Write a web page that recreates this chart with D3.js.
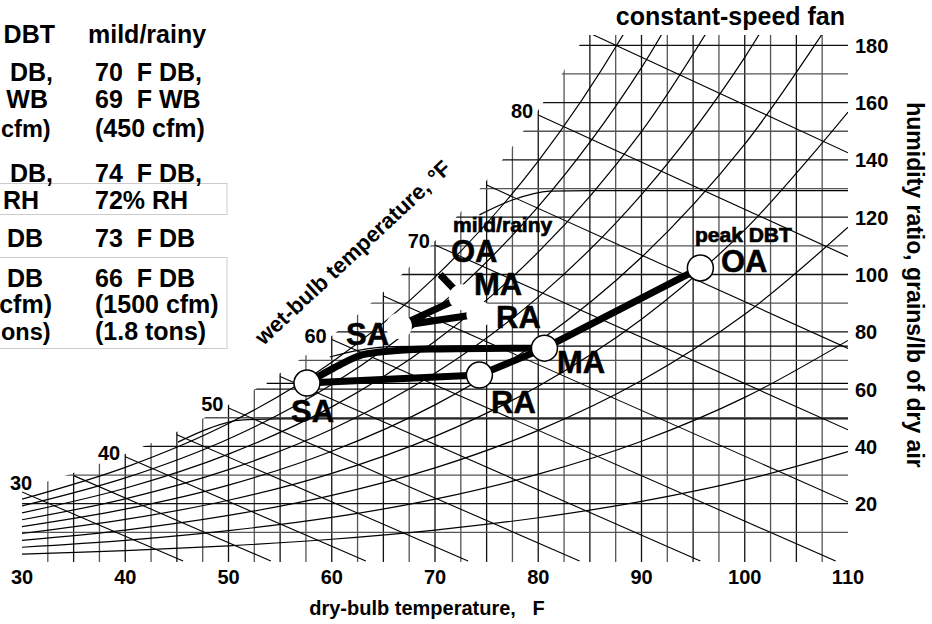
<!DOCTYPE html>
<html>
<head>
<meta charset="utf-8">
<script src="https://d3js.org/d3.v7.min.js"></script>
<style>
  body { margin: 0; background: #fff; }
  svg { display: block; font-family: "Liberation Sans", Arial, sans-serif; font-weight: bold; }
  text { white-space: pre; }
</style>
</head>
<body>
<script>
// saturation humidity ratio, grains/lb, by dry-bulb F
const satT = [30, 32.5, 35, 37.5, 40, 42.5, 45, 47.5, 50, 52.5, 55, 57.5, 60, 62.5, 65, 67.5, 70, 72.5, 75, 77.5, 80, 82.5, 85, 87.5, 90];
const satW = [24.1, 26.9, 29.8, 33.0, 36.4, 40.1, 44.1, 48.6, 53.4, 58.6, 64.4, 70.6, 77.3, 84.6, 92.5, 101.1, 110.3, 120.3, 131.2, 143.0, 155.7, 169.4, 184.2, 200.2, 217.4];

// relative humidity curves 10%..90%, grains/lb at each dry-bulb
const rhT = [30, 40, 50, 60, 70, 80, 90, 100, 110];
const rh10 = [2.4, 3.6, 5.3, 7.6, 10.8, 15.1, 20.8, 28.3, 38.2];
const rh20 = [4.8, 7.2, 10.6, 15.2, 21.6, 30.3, 41.8, 57.1, 77.0];
const rh30 = [7.2, 10.8, 15.9, 22.9, 32.5, 45.6, 63.0, 86.1, 116.5];
const rh40 = [9.6, 14.5, 21.2, 30.6, 43.5, 61.0, 84.4, 115.6, 156.7];
const rh50 = [12.0, 18.1, 26.5, 38.3, 54.5, 76.5, 106.0, 145.5, 197.7];
const rh60 = [14.4, 21.7, 31.9, 46.0, 65.5, 92.1, 127.9, 175.8, 239.4];
const rh70 = [16.8, 25.4, 37.3, 53.8, 76.7, 107.8, 149.9, 206.4];
const rh80 = [19.2, 29.0, 42.6, 61.6, 87.8, 123.7, 172.2, 237.5];
const rh90 = [21.6, 32.7, 48.0, 69.4, 99.1, 139.6, 194.7, 269.0];

// wet-bulb lines: start on saturation, end at W=0 or at the 110 F edge
const wbT = [30, 35, 40, 45, 50, 55, 60, 65, 70, 75, 80, 85];
const wbStartW = [24.1, 29.8, 36.4, 44.1, 53.4, 64.4, 77.3, 92.5, 110.3, 131.2, 155.7, 184.2];
const wbEndT = [45.6, 54.1, 63.3, 73.2, 84.0, 95.7, 108.8, 110, 110, 110, 110, 110];
const wbEndW = [0, 0, 0, 0, 0, 0, 0, 20.6, 45.8, 74.2, 106.3, 142.5];
const wbLabels = [30, 40, 50, 60, 70, 80];

const xTicks = [30, 40, 50, 60, 70, 80, 90, 100, 110];
const yTicks = [20, 40, 60, 80, 100, 120, 140, 160, 180];

// peak DBT states (OA, MA, RA, SA)
const peakNames = ['OA', 'MA', 'RA', 'SA'];
const peakT = [95.7, 80.6, 74.3, 57.6];
const peakW = [102.3, 74.3, 64.9, 62.1];
// cooling coil path MA -> SA
const coilT = [80.6, 70, 66, 63, 60.8, 57.6];
const coilW = [74.3, 74, 73.4, 72, 68.5, 62.1];

// mild/rainy states (OA, MA, RA, SA)
const mildT = [70.5, 72.6, 74.3, 66.5];
const mildW = [100, 92.1, 86.2, 82];

// thin process traces
const traceA_T = [59.8, 62.7, 65.9, 70, 110];
const traceA_W = [71.2, 73.6, 74.8, 75, 75];
const traceB_T = [45.1, 48.2, 51.1, 55, 110];
const traceB_W = [41.5, 46.4, 49.2, 49.6, 49.6];
const traceC_T = [74.3, 77.5, 81.1, 85, 110];
const traceC_W = [120.8, 126, 129.1, 129.3, 129.3];
const traceD_T = [53.7, 110];
const traceD_W = [62, 62];

// table (the peak column is only partly inside the picture)
const peakCol = ['DBT', 'DB,', 'WB', 'cfm)', 'DB,', 'RH', 'DB', 'DB', 'cfm)', 'ons)'];
const mildCol = ['mild/rainy', '70  F DB,', '69  F WB', '(450 cfm)', '74  F DB,', '72% RH', '73  F DB', '66  F DB', '(1500 cfm)', '(1.8 tons)'];

const width = 932, height = 624;
const svg = d3.select('body').append('svg').attr('width', width).attr('height', height);

const x = d3.scaleLinear().domain([30, 110]).range([22, 848]);
const y = d3.scaleLinear().domain([0, 180]).range([561, 45.3]);

const defs = svg.append('defs');
defs.append('clipPath').attr('id', 'plot')
  .append('rect').attr('x', x(30)).attr('y', 35).attr('width', x(110) - x(30)).attr('height', 527);

const satPts = satT.map((t, i) => [x(t) - 2, y(satW[i]) - 2]);
satPts.push([900, -200], [900, 650], [0, 650], [0, y(satW[0]) - 2]);
defs.append('clipPath').attr('id', 'sat')
  .append('polygon').attr('points', satPts.map(p => p.join(',')).join(' '));

const plot = svg.append('g').attr('clip-path', 'url(#plot)');
const grid = plot.append('g').attr('clip-path', 'url(#sat)');

grid.selectAll('.vl')
  .data(d3.range(32.5, 108, 2.5))
  .enter().append('line')
  .attr('x1', d => x(d)).attr('x2', d => x(d))
  .attr('y1', y(0) + 2).attr('y2', 0)
  .attr('stroke', (d, i) => i % 2 ? '#111' : '#555')
  .attr('stroke-width', 1.3);

grid.selectAll('.hl')
  .data(d3.range(10, 190, 10))
  .enter().append('line')
  .attr('x1', 0).attr('x2', x(110))
  .attr('y1', d => y(d)).attr('y2', d => y(d))
  .attr('stroke', (d, i) => i % 2 ? '#111' : '#555')
  .attr('stroke-width', 1.3);

const curve = d3.line().x(d => x(d[0])).y(d => y(d[1])).curve(d3.curveCatmullRom);
const rhSets = [rh10, rh20, rh30, rh40, rh50, rh60, rh70, rh80, rh90];
plot.selectAll('.rh')
  .data(rhSets)
  .enter().append('path')
  .attr('d', s => curve(s.map((w, i) => [rhT[i], w])))
  .attr('fill', 'none').attr('stroke', '#000').attr('stroke-width', 1.2);

plot.selectAll('.wb')
  .data(wbT)
  .enter().append('line')
  .attr('x1', (d, i) => x(d)).attr('y1', (d, i) => y(wbStartW[i]))
  .attr('x2', (d, i) => x(wbEndT[i])).attr('y2', (d, i) => y(wbEndW[i]))
  .attr('stroke', '#000').attr('stroke-width', 1.1);

// thin traces
const lin = d3.line().x(d => x(d[0])).y(d => y(d[1])).curve(d3.curveMonotoneX);
[[traceA_T, traceA_W], [traceB_T, traceB_W], [traceC_T, traceC_W], [traceD_T, traceD_W]].forEach(([ts, ws]) => {
  plot.append('path')
    .attr('d', lin(ts.map((t, i) => [t, ws[i]])))
    .attr('fill', 'none').attr('stroke', '#000').attr('stroke-width', 1.2);
});

// wet-bulb labels
svg.selectAll('.wbl')
  .data(wbLabels)
  .enter().append('text')
  .attr('x', d => d === 30 ? 10 : x(d) - 5)
  .attr('y', d => d === 30 ? 490 : y(satW[satT.indexOf(d)]) + 3)
  .attr('text-anchor', d => d === 30 ? 'start' : 'end')
  .attr('font-size', 20)
  .text(d => d);

// mild/rainy process
const mp = mildT.map((t, i) => [x(t), y(mildW[i])]);
const thick = (a, b) => svg.append('line')
  .attr('x1', a[0]).attr('y1', a[1]).attr('x2', b[0]).attr('y2', b[1])
  .attr('stroke', '#000').attr('stroke-width', 7);
thick(mp[0], mp[1]);
thick(mp[1], mp[3]);
thick(mp[3], mp[2]);
svg.selectAll('.mc')
  .data(mp.slice(1))
  .enter().append('circle')
  .attr('cx', d => d[0]).attr('cy', d => d[1]).attr('r', 13)
  .attr('fill', '#fff');

// peak DBT process
const pp = peakT.map((t, i) => [x(t), y(peakW[i])]);
thick(pp[0], pp[1]);
thick(pp[1], pp[2]);
thick(pp[2], pp[3]);
svg.append('path')
  .attr('d', lin.curve(d3.curveCatmullRom)(coilT.map((t, i) => [t, coilW[i]])))
  .attr('fill', 'none').attr('stroke', '#000').attr('stroke-width', 7);
svg.selectAll('.pc')
  .data(pp)
  .enter().append('circle')
  .attr('cx', d => d[0]).attr('cy', d => d[1]).attr('r', 13)
  .attr('fill', '#fff').attr('stroke', '#000').attr('stroke-width', 1.5);

// state labels
const peakLab = [[721, 272], [557, 373], [491, 413], [291, 422]];
const mildLab = [[451, 262], [474, 295], [496, 328], [346, 345]];
peakNames.forEach((n, i) => {
  svg.append('text').attr('x', peakLab[i][0]).attr('y', peakLab[i][1]).attr('font-size', 31)
    .attr('stroke', '#000').attr('stroke-width', 0.5).text(n);
  svg.append('text').attr('x', mildLab[i][0]).attr('y', mildLab[i][1]).attr('font-size', 31)
    .attr('stroke', '#000').attr('stroke-width', 0.5).text(n);
});
svg.append('text').attr('x', 695).attr('y', 242).attr('font-size', 21)
  .attr('stroke', '#000').attr('stroke-width', 0.7).text('peak DBT');
svg.append('text').attr('x', 453).attr('y', 232).attr('font-size', 21)
  .attr('stroke', '#000').attr('stroke-width', 0.7).text('mild/rainy');

// axes labels
svg.selectAll('.xt')
  .data(xTicks)
  .enter().append('text')
  .attr('x', d => x(d)).attr('y', 584)
  .attr('text-anchor', 'middle').attr('font-size', 20)
  .text(d => d);
svg.selectAll('.yt')
  .data(yTicks)
  .enter().append('text')
  .attr('x', 855).attr('y', d => y(d) + 7.5)
  .attr('font-size', 20)
  .text(d => d);

svg.append('text').attr('x', 427).attr('y', 615).attr('text-anchor', 'middle')
  .attr('font-size', 20).text('dry-bulb temperature,   F');
svg.append('text').attr('transform', 'translate(907,285) rotate(90)')
  .attr('text-anchor', 'middle').attr('font-size', 23)
  .text('humidity ratio, grains/lb of dry air');
svg.append('text').attr('transform', 'translate(358,258) rotate(-43)')
  .attr('text-anchor', 'middle').attr('font-size', 22)
  .text('wet-bulb temperature, °F');
svg.append('text').attr('x', 845).attr('y', 25).attr('text-anchor', 'end')
  .attr('font-size', 25).text('constant-speed fan');

// table
const rowY = [43, 81, 108, 137, 182, 209, 247, 287, 313, 340];
const peakEnd = [55, 53, 48, 40, 53, 39, 43, 43, 52, 42];
svg.append('rect').attr('x', -2).attr('y', 183.5).attr('width', 229).attr('height', 31)
  .attr('fill', 'none').attr('stroke', '#ccc');
svg.append('rect').attr('x', -2).attr('y', 257.5).attr('width', 229).attr('height', 91)
  .attr('fill', 'none').attr('stroke', '#ccc');
svg.selectAll('.pcol')
  .data(peakCol)
  .enter().append('text')
  .attr('x', (d, i) => (i === 3 || i === 9) ? 1 : peakEnd[i]).attr('y', (d, i) => rowY[i])
  .attr('text-anchor', (d, i) => (i === 3 || i === 9) ? 'start' : 'end')
  .attr('font-size', (d, i) => (i === 3 || i === 9) ? 23.5 : 25)
  .text(d => d);
svg.selectAll('.mcol')
  .data(mildCol)
  .enter().append('text')
  .attr('x', (d, i) => i === 0 ? 88 : 95).attr('y', (d, i) => rowY[i])
  .attr('font-size', 25).text(d => d);
</script>
</body>
</html>
